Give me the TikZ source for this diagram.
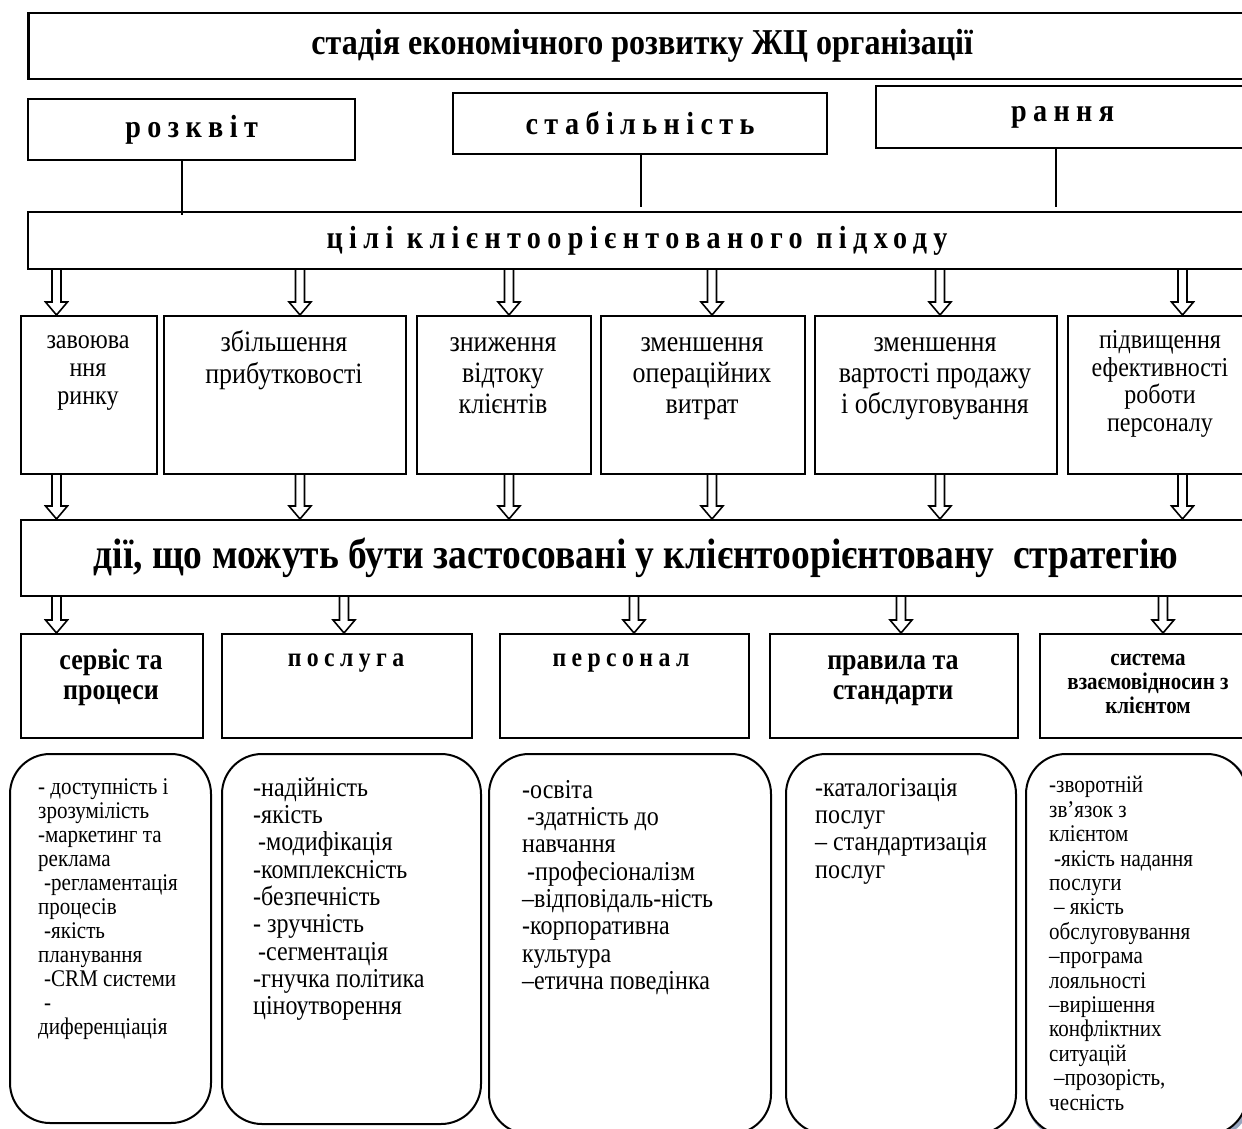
\documentclass[tikz,border=0pt]{standalone}
\usepackage{fontspec}
\setmainfont{Liberation Serif}[FakeStretch=0.88]
\newfontfamily\spc{Liberation Serif}[FakeStretch=0.88,LetterSpace=20]
\usetikzlibrary{calc}
\newcommand\hb{\rule{0pt}{0.7em}}
\begin{document}
\begin{tikzpicture}[x=1pt,y=-1pt,
  box/.style={draw, line width=2.2pt, inner sep=0pt, anchor=north west},
  rbox/.style={draw, line width=2pt, inner sep=0pt, anchor=north west, rounded corners=40pt},
  conn/.style={line width=1.6pt},
  hollow/.style={line width=1.6pt, line join=miter, to path={
    let \p1=(\tikztostart), \p2=(\tikztotarget) in
    ({\x1-4.5pt},{\y1}) -- ({\x1-4.5pt},{\y2+13pt}) -- ({\x1-11pt},{\y2+13pt}) -- ({\x1},{\y2})
    -- ({\x1+11pt},{\y2+13pt}) -- ({\x1+4.5pt},{\y2+13pt}) -- ({\x1+4.5pt},{\y1})}},
  ctxt/.style={inner sep=0pt, align=center, anchor=north},
  ltxt/.style={inner sep=0pt, align=left, anchor=north west},
  head/.style={font=\spc\fontsize{32}{36}\selectfont\bfseries},
]
\useasboundingbox (0,0) rectangle (1242,1129);
\fill[white] (0,0) rectangle (1242,1129);
\clip (0,0) rectangle (1242,1129);

% top row
\node[box, line width=2.5pt, minimum width=1228, minimum height=66,
  font=\fontsize{36.4}{40}\selectfont\bfseries] (stage) at (27,12) {стадія економічного розвитку ЖЦ організації};
\node[box, head, minimum width=327, minimum height=61] (rozkvit) at (27,98) {розквіт};
\node[box, head, minimum width=374, minimum height=61] (stab) at (452,92) {стабільність};
\node[box, head, minimum width=373, minimum height=62] (rann) at (875,85) {рання};
\node[box, head, minimum width=1218, minimum height=57] (cel) at (27,211) {цілі клієнтоорієнтованого підходу};

\coordinate (l1) at (182,0);
\coordinate (l2) at (641,0);
\coordinate (l3) at (1056,0);
\draw[conn, shorten >=-4pt] (l1 |- rozkvit.south) -- (l1 |- cel.north);
\draw[conn, shorten >=4pt] (l2 |- stab.south) -- (l2 |- cel.north);
\draw[conn, shorten >=4pt] (l3 |- rann.south) -- (l3 |- cel.north);

% goals
\node[box, minimum width=136, minimum height=158] (g1) at (20,315) {};
\node[box, minimum width=242, minimum height=158] (g2) at (163,315) {};
\node[box, minimum width=174, minimum height=158] (g3) at (416,315) {};
\node[box, minimum width=204, minimum height=158] (g4) at (600,315) {};
\node[box, minimum width=242, minimum height=158] (g5) at (814,315) {};
\node[box, minimum width=186, minimum height=158] (g6) at (1067,315) {};

\node[ctxt, font=\fontsize{27.3}{28}\selectfont] (t1) at (88,329) {\hb завоюва\\ння\\ринку};
\node[ctxt, font=\fontsize{29.5}{32}\selectfont] (t2) at (284,330) {\hb збільшення\\прибутковості};
\node[ctxt, font=\fontsize{29.5}{31}\selectfont] (t3) at (503,331) {\hb зниження\\відтоку\\клієнтів};
\node[ctxt, font=\fontsize{29.5}{31}\selectfont] (t4) at (702,331) {\hb зменшення\\операційних\\витрат};
\node[ctxt, font=\fontsize{29.5}{31}\selectfont] (t5) at (935,331) {\hb зменшення\\вартості продажу\\і обслуговування};
\node[ctxt, font=\fontsize{27.3}{27.7}\selectfont] (t6) at (1160,329) {\hb підвищення\\ефективності\\роботи\\персоналу};

\foreach \i/\x in {1/56.5, 2/300, 3/509, 4/712, 5/940, 6/1182.5}{
  \coordinate (a\i) at (\x,0);
  \draw[hollow] (a\i |- cel.south) to (a\i |- g\i.north);
}

% actions
\node[box, minimum width=1230, minimum height=76,
  font=\fontsize{42.6}{46}\selectfont\bfseries] (dii) at (20,519) {дії, що можуть бути застосовані у клієнтоорієнтовану~ стратегію};

\foreach \i in {1,...,6}{
  \draw[hollow] (a\i |- g\i.south) to (a\i |- dii.north);
}

% categories
\node[box, minimum width=182, minimum height=104] (c1) at (20,633) {};
\node[box, minimum width=250, minimum height=104] (c2) at (221,633) {};
\node[box, minimum width=249, minimum height=104] (c3) at (499,633) {};
\node[box, minimum width=248, minimum height=104] (c4) at (769,633) {};
\node[box, minimum width=218, minimum height=104] (c5) at (1039,633) {};

\node[ctxt, font=\fontsize{29.5}{30}\selectfont\bfseries] (k1) at (111,649) {\hb сервіс та\\процеси};
\node[ctxt, font=\spc\fontsize{27}{30}\selectfont\bfseries] (k2) at (346,647) {\hb послуга};
\node[ctxt, font=\spc\fontsize{27}{30}\selectfont\bfseries] (k3) at (621,647) {\hb персонал};
\node[ctxt, font=\fontsize{29.5}{30}\selectfont\bfseries] (k4) at (893,649) {\hb правила та\\стандарти};
\node[ctxt, font=\fontsize{23.9}{24}\selectfont\bfseries] (k5) at (1148,649) {\hb система\\взаємовідносин з\\клієнтом};

\foreach \i/\x in {1/56.5, 2/344, 3/634, 4/901, 5/1163}{
  \coordinate (b\i) at (\x,0);
  \draw[hollow] (b\i |- dii.south) to (b\i |- c\i.north);
}

% detail boxes
\node[rbox, minimum width=201, minimum height=369] (r1) at (9,753) {};
\node[rbox, minimum width=259, minimum height=370] (r2) at (221,753) {};
\node[rbox, minimum width=282, minimum height=380] (r3) at (488,753) {};
\node[rbox, minimum width=230, minimum height=380] (r4) at (785,753) {};
\draw[line width=4pt, draw={rgb,255:red,150;green,165;blue,190}, rounded corners=40pt]
  (1028,757) rectangle (1249,1137);
\node[rbox, fill=white, minimum width=221, minimum height=381] (r5) at (1025,753) {};

\node[ltxt, font=\fontsize{23.9}{24}\selectfont] (d1) at (38,778) {\hb- доступність і\\зрозумілість\\-маркетинг та\\реклама\\\hspace*{6pt}-регламентація\\процесів\\\hspace*{6pt}-якість\\планування\\\hspace*{6pt}-CRM системи\\\hspace*{6pt}-\\диференціація};
\node[ltxt, font=\fontsize{27.3}{27.3}\selectfont] (d2) at (253,777) {\hb-надійність\\-якість\\\hspace*{5pt}-модифікація\\-комплексність\\-безпечність\\- зручність\\\hspace*{5pt}-сегментація\\-гнучка політика\\ціноутворення};
\node[ltxt, font=\fontsize{27.3}{27.3}\selectfont] (d3) at (522,779) {\hb-освіта\\\hspace*{5pt}-здатність до\\навчання\\\hspace*{5pt}-професіоналізм\\–відповідаль-ність\\-корпоративна\\культура\\–етична поведінка};
\node[ltxt, font=\fontsize{27.3}{27.3}\selectfont] (d4) at (815,777) {\hb-каталогізація\\послуг\\– стандартизація\\послуг};
\node[ltxt, font=\fontsize{23.9}{24.4}\selectfont] (d5) at (1049,776) {\hb-зворотній\\зв’язок з\\клієнтом\\\hspace*{5pt}-якість надання\\послуги\\\hspace*{5pt}– якість\\обслуговування\\–програма\\лояльності\\–вирішення\\конфліктних\\ситуацій\\\hspace*{5pt}–прозорість,\\чесність};
\end{tikzpicture}
\end{document}
